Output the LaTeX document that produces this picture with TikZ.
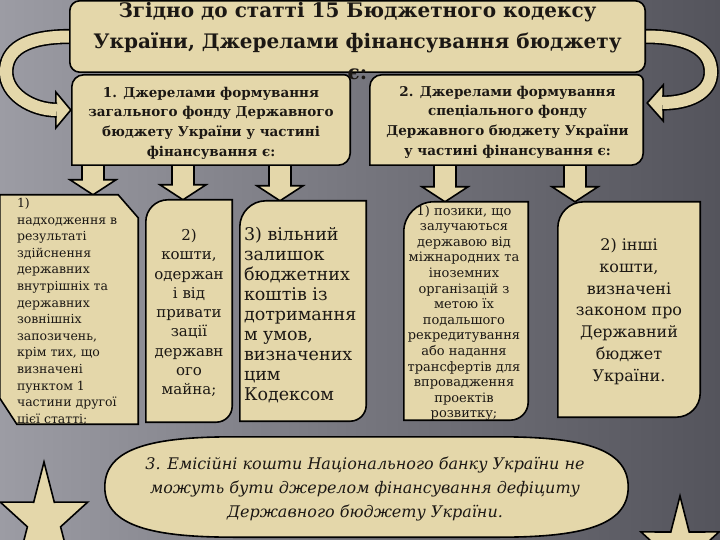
\documentclass[tikz,border=0pt]{standalone}
\usepackage{fontspec}
\setmainfont{DejaVu Serif}
\usetikzlibrary{calc}

\definecolor{parch}{RGB}{228,215,170}
\definecolor{ink}{RGB}{28,24,20}
\definecolor{bgleft}{RGB}{156,156,164}
\definecolor{bgmid}{RGB}{118,118,126}
\definecolor{bgright}{RGB}{84,84,92}

% panel with its own radius at each corner: node, TL, TR, BR, BL
\newcommand{\roundpanel}[5]{%
  \filldraw[panel] ($(#1.north west)+(0,#2)$) .. controls ($(#1.north west)+(0,0.45*#2)$) and ($(#1.north west)+(0.45*#2,0)$) .. ($(#1.north west)+(#2,0)$)
    -- ($(#1.north east)+(-#3,0)$) .. controls ($(#1.north east)+(-0.45*#3,0)$) and ($(#1.north east)+(0,0.45*#3)$) .. ($(#1.north east)+(0,#3)$)
    -- ($(#1.south east)+(0,-#4)$) .. controls ($(#1.south east)+(0,-0.45*#4)$) and ($(#1.south east)+(-0.45*#4,0)$) .. ($(#1.south east)+(-#4,0)$)
    -- ($(#1.south west)+(#5,0)$) .. controls ($(#1.south west)+(0.45*#5,0)$) and ($(#1.south west)+(0,-0.45*#5)$) .. ($(#1.south west)+(0,-#5)$)
    -- cycle;}

% block arrow down: x, from node, to node
\newcommand{\dnarrow}[3]{%
  \filldraw[panel] (#1-11,0 |- #2.south)
    -- ($(#1-11,0 |- #3.north)+(0,-15)$)
    -- ($(#1-23,0 |- #3.north)+(0,-15)$)
    -- (#1,0 |- #3.north)
    -- ($(#1+23,0 |- #3.north)+(0,-15)$)
    -- ($(#1+11,0 |- #3.north)+(0,-15)$)
    -- (#1+11,0 |- #2.south);}

\begin{document}
\begin{tikzpicture}[x=1pt,y=-1pt,
  cell/.style 2 args={inner sep=0pt,minimum width=#1,minimum height=#2},
  panel/.style={fill=parch,draw=black,line width=1.6pt},
  band/.style={draw=black,line width=1.6pt,double=parch,double distance=12pt},
  txt/.style={text=ink,inner sep=0pt,align=center}]

  \useasboundingbox (0,0) rectangle (720,540);
  \clip (0,0) rectangle (720,540);
  \shade[left color=bgleft,right color=bgright,middle color=bgmid] (0,0) rectangle (720,540);

  % places of the boxes
  \node[cell={575pt}{71pt}] (title) at (357.5,36.5) {};
  \node[cell={278pt}{90pt}] (src1) at (211,120) {};
  \node[cell={273pt}{90pt}] (src2) at (506.5,120) {};
  \node[cell={138pt}{229pt}] (b1) at (69,309.5) {};
  \node[cell={86pt}{222pt}] (b2) at (189,311) {};
  \node[cell={126pt}{220pt}] (b3) at (303,311) {};
  \node[cell={124pt}{218pt}] (b4) at (466,311) {};
  \node[cell={142pt}{215pt}] (b5) at (629,309.5) {};
  \node[cell={523pt}{100pt}] (zero) at (366.5,487) {};
  \coordinate (lturn) at (6,72);
  \coordinate (rturn) at (711,72);

  % curved arrows
  \filldraw[panel] ($(src1.west)+(-16,-28)$) -- ($(src1.west)+(-1,-10)$) -- ($(src1.west)+(-16,8)$) -- cycle;
  \draw[band] (title.west) .. controls +(-45,0) and +(0,-22) .. (lturn) .. controls +(0,22) and +(-25,0) .. ($(src1.west)+(-15,-10)$);
  \filldraw[panel] ($(src2.east)+(20,-35)$) -- ($(src2.east)+(4,-17)$) -- ($(src2.east)+(20,1)$) -- cycle;
  \draw[band] (title.east) .. controls +(45,0) and +(0,-22) .. (rturn) .. controls +(0,22) and +(25,0) .. ($(src2.east)+(19,-17)$);

  % down arrows
  \dnarrow{93}{src1}{b1}
  \dnarrow{183}{src1}{b2}
  \dnarrow{280}{src1}{b3}
  \dnarrow{445}{src2}{b4}
  \dnarrow{575}{src2}{b5}

  % boxes
  \filldraw[panel,rounded corners=10pt] (title.north west) rectangle (title.south east);
  \roundpanel{src1}{12}{6}{12}{0}
  \roundpanel{src2}{12}{6}{12}{0}
  \filldraw[panel] (b1.north west) -- ($(b1.north east)+(-20,0)$) -- ($(b1.north east)+(0,23)$) -- (b1.south east)
    -- ($(b1.south west)+(17,0)$) -- ($(b1.south west)+(0,-26)$) -- cycle;
  \roundpanel{b2}{22}{0}{16}{0}
  \roundpanel{b3}{26}{0}{16}{0}
  \roundpanel{b4}{30}{0}{18}{0}
  \roundpanel{b5}{26}{0}{24}{0}
  \filldraw[panel] (zero.west) .. controls ($(zero.west)+(0,-40)$) and ($(zero.north west)+(50,0)$) .. ($(zero.north west)+(130,0)$)
    -- ($(zero.north east)+(-130,0)$) .. controls ($(zero.north east)+(-50,0)$) and ($(zero.east)+(0,-40)$) .. (zero.east)
    .. controls ($(zero.east)+(0,40)$) and ($(zero.south east)+(-50,0)$) .. ($(zero.south east)+(-130,0)$)
    -- ($(zero.south west)+(130,0)$) .. controls ($(zero.south west)+(50,0)$) and ($(zero.west)+(0,40)$) .. (zero.west) -- cycle;

  % stars
  \filldraw[panel] (44,462) -- (54.3,502.2) -- (87.7,502.1) -- (60.6,526.8) -- (71,566.9)
    -- (44,542) -- (17,566.9) -- (27.4,526.8) -- (0.3,502.1) -- (33.7,502.2) -- cycle;
  \filldraw[panel] (680,496) -- (689.2,532) -- (719,531.9) -- (694.8,554.1) -- (704.1,590.1)
    -- (680,567.8) -- (655.9,590.1) -- (665.2,554.1) -- (641,531.9) -- (670.8,532) -- cycle;

  % texts
  \node[txt,font=\bfseries\fontsize{20}{31}\selectfont] (titletxt) at ($(title)+(0,5)$)
    {Згідно до статті 15 Бюджетного кодексу\\України, Джерелами фінансування бюджету\\є:};
  \node[txt,font=\bfseries\fontsize{13.5}{19.7}\selectfont] (src1txt) at ($(src1)+(0,3)$)
    {1. Джерелами формування\\загального фонду Державного\\бюджету України у частині\\фінансування є:};
  \node[txt,font=\bfseries\fontsize{13.5}{19.7}\selectfont] (src2txt) at ($(src2)+(1,2)$)
    {2. Джерелами формування\\спеціального фонду\\Державного бюджету України\\у частині фінансування є:};
  \begin{scope}
    \clip (b1.north west) rectangle (b1.south east);
    \node[txt,align=left,anchor=west,font=\fontsize{12.5}{16.6}\selectfont] (b1txt) at ($(b1.west)+(17,2)$)
      {1)\\надходження в\\результаті\\здійснення\\державних\\внутрішніх та\\державних\\зовнішніх\\запозичень,\\крім тих, що\\визначені\\пунктом 1\\частини другої\\цієї статті;};
  \end{scope}
  \node[txt,font=\fontsize{15}{19.3}\selectfont] (b2txt) at ($(b2)+(0,2)$)
    {2)\\кошти,\\одержан\\і від\\привати\\зації\\державн\\ого\\майна;};
  \node[txt,align=left,anchor=west,font=\fontsize{17.5}{19.9}\selectfont] (b3txt) at ($(b3.west)+(4,4)$)
    {3) вільний\\залишок\\бюджетних\\коштів із\\дотримання\\м умов,\\визначених\\цим\\Кодексом};
  \node[txt,font=\fontsize{13}{15.6}\selectfont] (b4txt) at ($(b4)+(-2,2)$)
    {1) позики, що\\залучаються\\державою від\\міжнародних та\\іноземних\\організацій з\\метою їх\\подальшого\\рекредитування\\або надання\\трансфертів для\\впровадження\\проектів\\розвитку;};
  \node[txt,font=\fontsize{16}{21.7}\selectfont] (b5txt) at ($(b5)+(0,2)$)
    {2) інші\\кошти,\\визначені\\законом про\\Державний\\бюджет\\України.};
  \node[txt,font=\itshape\fontsize{16}{24}\selectfont] (zerotxt) at ($(zero)+(-1.5,2)$)
    {3. Емісійні кошти Національного банку України не\\можуть бути джерелом фінансування дефіциту\\Державного бюджету України.};
\end{tikzpicture}
\end{document}
